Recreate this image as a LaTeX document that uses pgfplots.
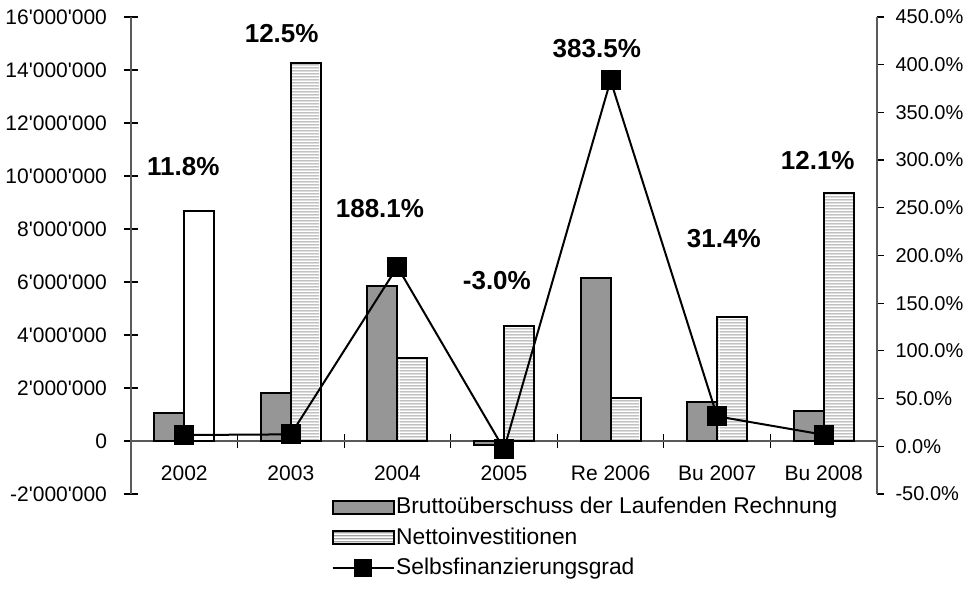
\documentclass[border=0pt]{standalone}
\usepackage{fontspec}
\setmainfont{Liberation Sans}[Ligatures=TeXOff]
\usepackage{pgfplots}
\pgfplotsset{compat=1.18}
\usetikzlibrary{patterns.meta,calc}

\definecolor{barGray}{RGB}{150,150,150}
\definecolor{stripeGray}{RGB}{160,160,160}
\definecolor{axGray}{RGB}{90,90,90}

% horizontal stripes of the Nettoinvestitionen bars
\tikzdeclarepattern{
  name=hstripes, type=uncolored,
  bounding box={(0pt,0pt) and (40pt,1.5pt)},
  tile size={(40pt,1.5pt)},
  code={\fill (0pt,0.4pt) rectangle (40pt,1.1pt);}
}

\pgfplotsset{
  /pgf/number format/assume math mode=true,
  barleg/.style={legend image code/.code={\draw[##1] (0pt,-3.25pt) rectangle (30.5pt,3.25pt);}},
  lineleg/.style={legend image code/.code={\draw[##1,mark repeat=2,mark phase=2] plot coordinates {(0pt,0pt) (15.25pt,0pt) (30.5pt,0pt)};}},
}

\begin{document}
\begin{tikzpicture}
\begin{axis}[
    scale only axis, width=373pt, height=238.5pt,
    xmin=-0.5, xmax=6.5, ymin=-2000000, ymax=16000000,
    axis x line=middle, axis y line=left,
    axis line style={-, axGray, line width=0.6pt},
    xtick={0,1,2,3,4,5,6},
    xticklabels={2002,2003,2004,2005,Re 2006,Bu 2007,Bu 2008},
    minor x tick num=1,
    major x tick style={draw=none},
    minor tick length=7pt,
    ytick={-2000000,0,2000000,4000000,6000000,8000000,10000000,12000000,14000000,16000000},
    scaled y ticks=false,
    yticklabel style={/pgf/number format/fixed, /pgf/number format/precision=0,
        /pgf/number format/1000 sep={'}, xshift=-5pt},
    tick align=center, major tick length=7pt,
    tick style={black, line width=0.6pt},
    ticklabel style={font=\fontsize{10.5}{12}\selectfont},
    xticklabel style={yshift=-5.5pt},
    legend cell align=left,
    legend style={at={(0.269,0)}, anchor=north west, draw=none, fill=none,
        inner sep=0pt, outer sep=0pt, row sep=2pt,
        font=\fontsize{11.4}{13}\selectfont,
        nodes={inner sep=0.75pt, text height=9pt, text depth=2.8pt}},
]
\coordinate (sw) at (rel axis cs:0,0);
\addplot[ybar, bar width=15pt, bar shift=-7.5pt, draw=black, line width=1pt, fill=barGray, barleg]
    coordinates {(0,1045000) (1,1800000) (2,5860000) (3,-150000) (4,6160000) (5,1480000) (6,1140000)};
\addlegendentry{Bruttoüberschuss der Laufenden Rechnung}
\addplot[ybar, bar width=15pt, bar shift=7.5pt, draw=black, line width=1pt,
    pattern=hstripes, pattern color=stripeGray, barleg]
    coordinates {(1,14280000) (2,3130000) (3,4340000) (4,1620000) (5,4690000) (6,9370000)};
\addlegendentry{Nettoinvestitionen}
\addplot[ybar, bar width=15pt, bar shift=7.5pt, draw=black, line width=1pt, fill=white, forget plot]
    coordinates {(0,8690000)};
\addlegendimage{black, line width=1pt, mark=square*, mark size=4pt, lineleg}
\addlegendentry{Selbsfinanzierungsgrad}
\end{axis}

\begin{axis}[
    scale only axis, width=373pt, height=238.5pt,
    xmin=-0.5, xmax=6.5, ymin=-50, ymax=450,
    axis x line=none, axis y line*=right,
    axis line style={-, axGray, line width=0.6pt},
    ytick={-50,0,50,100,150,200,250,300,350,400,450},
    yticklabel={\pgfmathprintnumber[fixed,fixed zerofill,precision=1]{\tick}\%},
    tick align=outside, major tick length=3.5pt,
    tick style={black, line width=0.6pt},
    ticklabel style={font=\fontsize{10}{12}\selectfont},
    yticklabel style={xshift=2.25pt},
]
\addplot[black, line width=1pt, mark=square*, mark size=4.5pt]
    coordinates {(0,11.8) (1,12.5) (2,188.1) (3,-3.0) (4,383.5) (5,31.4) (6,12.1)};
\begin{scope}[every node/.style={font=\bfseries\fontsize{13}{15}\selectfont}]
\node at (axis cs:-0.009,293.7) {11.8\%};
\node at (axis cs:0.914,432.5) {12.5\%};
\node at (axis cs:1.836,249.5) {188.1\%};
\node at (axis cs:2.933,174) {-3.0\%};
\node at (axis cs:3.871,416.8) {383.5\%};
\node at (axis cs:5.063,217.7) {31.4\%};
\node at (axis cs:5.944,299.7) {12.1\%};
\end{scope}
\end{axis}
\pgfresetboundingbox
\path[use as bounding box] ($(sw)+(-65.5pt,-51.5pt)$) rectangle ($(sw)+(417.5pt,247pt)$);
\end{tikzpicture}
\end{document}
